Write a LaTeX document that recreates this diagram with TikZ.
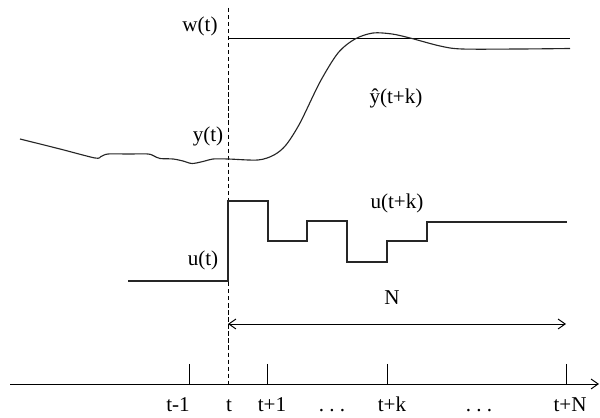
\documentclass[tikz,border=0pt]{standalone}
\usepackage{fontspec}
\setmainfont{Liberation Serif}
\usetikzlibrary{arrows.meta}
\begin{document}
\begin{tikzpicture}[x=0.025cm,y=-0.025cm,
  lbl/.style={font=\fontsize{15}{18}\selectfont, inner sep=0pt},
  axlbl/.style={lbl, anchor=base},
  sig/.style={line width=0.8pt, color=black!85},
  thin line/.style={line width=0.7pt, color=black},
  tickmark/.style={line width=0.6pt, color=black},
  nowline/.style={line width=0.6pt, dash pattern=on 3pt off 2pt},
  barbs/.style={arrows={-Straight Barb[length=5pt,width=7pt]}},
  dbarbs/.style={arrows={Straight Barb[length=5pt,width=7pt]-Straight Barb[length=5pt,width=7pt]}}
]
\useasboundingbox (0,0) rectangle (600,418);

% coordinates
\coordinate (nowtop) at (228,8);
\coordinate (nowbot) at (228,384);
\coordinate (axs) at (10,384);
\coordinate (axe) at (599,384);
\coordinate (ws) at (228,38);
\coordinate (we) at (570,38);
\coordinate (ns) at (228,324);
\coordinate (ne) at (566,324);

% time axis
\draw[thin line, barbs] (axs) -- (axe);
% ticks
\foreach \x/\n in {189/tm, 267/tp, 387/tk, 566/tn}{
  \coordinate (\n top) at (\x,364);
  \coordinate (\n bot) at (\x,384);
  \draw[tickmark] (\n top) -- (\n bot);
}
% present time
\draw[nowline] (nowtop) -- (nowbot);

% reference w(t)
\draw[thin line] (ws) -- (we);

% output curve
\draw[sig] plot[smooth, tension=0.5] coordinates {
 (20,139) (60,149) (95,158) (101,156.5) (108,154) (128,154) (148,154) (154,156) (160,158.5)
 (173,159) (183,161) (192,163.5) (203,161.5) (213,159) (228,159) (258,160) (274,155)
 (286,145) (300,123) (320,82) (338,53) (355,39) (373,33) (392,34) (410,38) (440,46)
 (462,49) (520,49) (570,48.5)};

% control signal
\draw[sig] (128,281) -- (228,281) -- (228,201) -- (268,201) -- (268,241) -- (307,241)
 -- (307,221) -- (347,221) -- (347,262) -- (387,262) -- (387,241) -- (427,241)
 -- (427,222) -- (567,222);

% horizon arrow
\draw[thin line, dbarbs] (ns) -- (ne);

% labels
\node[lbl] (lw) at (200,26) {w(t)};
\node[lbl] (ly) at (208,136) {y(t)};
\node[lbl] (lyhat) at (396,98) {\^{y}(t+k)};
\node[lbl] (luk) at (397,203) {u(t+k)};
\node[lbl] (lu) at (203,260) {u(t)};
\node[lbl] (lN) at (392,298) {N};

\node[axlbl] (a1) at (178,412) {t-1};
\node[axlbl] (a2) at (229,412) {t};
\node[axlbl] (a3) at (272,412) {t+1};
\node[axlbl] (a4) at (332,412) {.\hspace{0.25em}.\hspace{0.25em}.};
\node[axlbl] (a5) at (392,412) {t+k};
\node[axlbl] (a6) at (479,412) {.\hspace{0.25em}.\hspace{0.25em}.};
\node[axlbl] (a7) at (570,412) {t+N};
\end{tikzpicture}
\end{document}
